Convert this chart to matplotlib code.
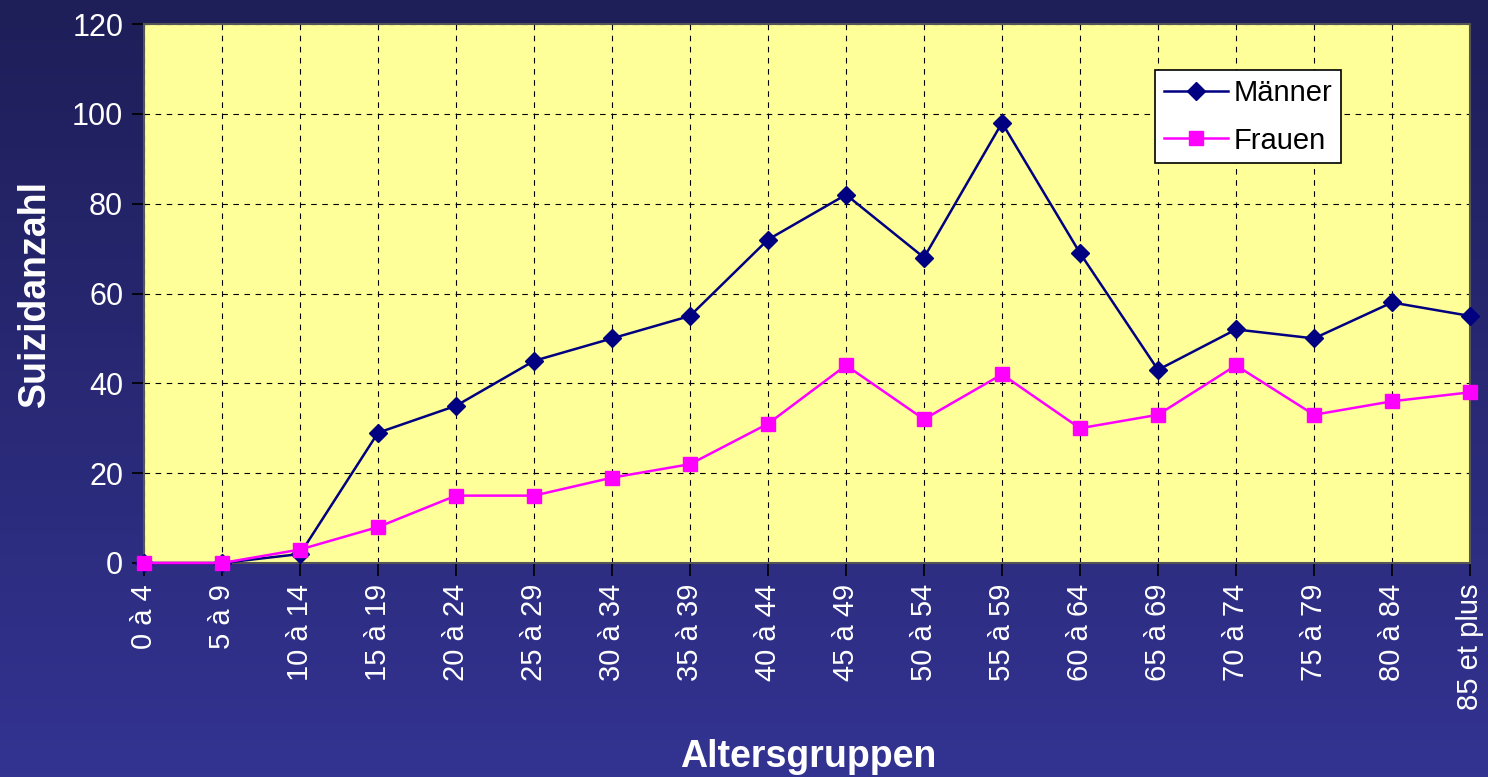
import numpy as np
import matplotlib
matplotlib.use("Agg")
import matplotlib.pyplot as plt
from matplotlib.colors import LinearSegmentedColormap

categories = ["0 à 4", "5 à 9", "10 à 14", "15 à 19", "20 à 24", "25 à 29", "30 à 34",
              "35 à 39", "40 à 44", "45 à 49", "50 à 54", "55 à 59", "60 à 64", "65 à 69",
              "70 à 74", "75 à 79", "80 à 84", "85 et plus"]
maenner = [0, 0, 2, 29, 35, 45, 50, 55, 72, 82, 68, 98, 69, 43, 52, 50, 58, 55]
frauen = [0, 0, 3, 8, 15, 15, 19, 22, 31, 44, 32, 42, 30, 33, 44, 33, 36, 38]

plt.rcParams['font.family'] = ['Liberation Sans', 'DejaVu Sans']

W, H = 1488, 777
fig = plt.figure(figsize=(W / 100, H / 100), dpi=100)

# gradient background
bg = fig.add_axes([0, 0, 1, 1], zorder=-10)
cmap = LinearSegmentedColormap.from_list("bg", ["#1e1e58", "#333392"])
grad = np.linspace(0, 1, 256).reshape(-1, 1)
bg.imshow(grad, aspect="auto", cmap=cmap, extent=[0, 1, 0, 1], origin="upper")
bg.set_axis_off()

left, right, top, bottom = 144, 1470, 24, 563
ax = fig.add_axes([left / W, 1 - bottom / H, (right - left) / W, (bottom - top) / H])
ax.set_facecolor("#ffff99")

x = np.arange(len(categories))
ax.plot(x, maenner, color="#000080", marker="D", markersize=9, linewidth=1.8,
        label="Männer", clip_on=False, zorder=3)
ax.plot(x, frauen, color="#ff00ff", marker="s", markersize=10, linewidth=1.8,
        label="Frauen", clip_on=False, zorder=4)

ax.set_xlim(0, len(categories) - 1)
ax.set_ylim(0, 120)
ax.set_yticks(np.arange(0, 121, 20))
ax.set_xticks(x)
ax.set_xticklabels(categories, rotation=90, ha="center", va="top")

ax.grid(True, color="black", linestyle=(0, (5, 5)), linewidth=0.8)
ax.set_axisbelow(True)

for s in ax.spines.values():
    s.set_color("#555555")
    s.set_linewidth(1.5)

ax.tick_params(axis="both", colors="white", length=9, width=1.2, direction="out")
ax.tick_params(axis="both", which="both", color="black")
ax.tick_params(axis="x", pad=6, labelsize=21)
ax.tick_params(axis="y", pad=6, labelsize=22)

ax.set_ylabel("Suizidanzahl", color="white", fontsize=27, fontweight="bold", labelpad=14)
fig.text(808 / W, 1 - 757 / H, "Altersgruppen", color="white", fontsize=27,
         fontweight="bold", ha="center", va="center")

leg = ax.legend(loc="upper left", bbox_to_anchor=((1155 - left) / (right - left), 1 - (70 - top) / (bottom - top)),
                borderaxespad=0, fontsize=21, frameon=True, fancybox=False, edgecolor="black",
                facecolor="white", framealpha=1, handlelength=2.2, borderpad=0.3,
                labelspacing=0.68, handletextpad=0.2)
leg.get_frame().set_linewidth(1.2)

fig.savefig("out.png", dpi=100)
